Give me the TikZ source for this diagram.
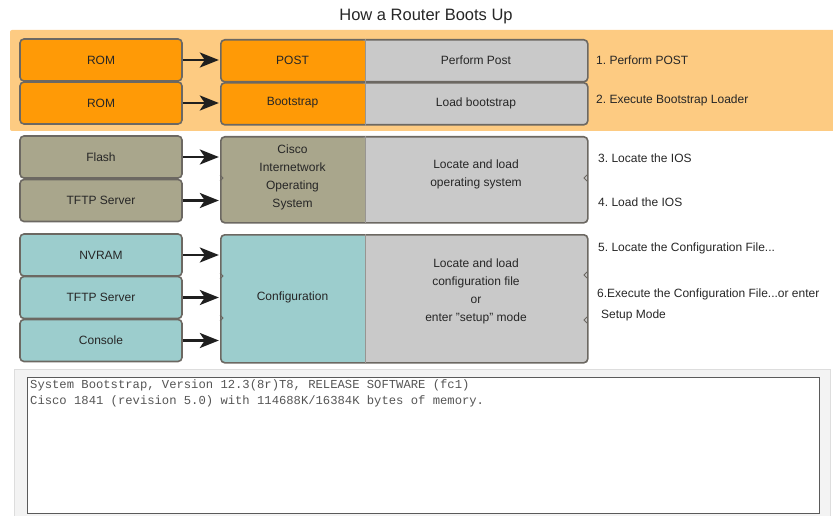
\documentclass[tikz,border=0pt]{standalone}
\usepackage{fontspec}
\setmainfont{Liberation Sans}
\newfontfamily\termfont{Liberation Mono}
\usetikzlibrary{arrows.meta}
\frenchspacing
\definecolor{bandorange}{HTML}{FDCB82}
\definecolor{orangefill}{HTML}{FF9A06}
\definecolor{grayfill}{HTML}{C9C9C9}
\definecolor{olivefill}{HTML}{A9A68C}
\definecolor{tealfill}{HTML}{9CCDCD}
\definecolor{bordercol}{HTML}{6C6862}
\definecolor{labeltext}{HTML}{262626}
\definecolor{termtext}{HTML}{555555}
\definecolor{panelfill}{HTML}{F3F3F3}
\definecolor{panelline}{HTML}{DDDDDD}
\definecolor{termline}{HTML}{5A5A5A}
\tikzset{
  box/.style={draw=bordercol, line width=1.6pt, rounded corners=4pt, inner sep=0pt},
  lbl/.style={font=\fontsize{12}{18}\selectfont, text=labeltext, align=center},
  steplbl/.style={font=\fontsize{12}{21}\selectfont, text=labeltext, anchor=west, align=left, inner sep=0pt},
  srcbox/.style={box, lbl, minimum width=162pt, minimum height=42pt},
  midbox/.style={box, fill=grayfill, anchor=north west, minimum width=367pt,
     path picture={\fill[#1] (path picture bounding box.north west) rectangle ([xshift=145pt]path picture bounding box.south west);}},
  divider/.style={draw=bordercol!70, line width=0.6pt},
  notch/.style={draw=bordercol, line width=1pt},
  arr/.style={line width=2.6pt, draw=black!88, -{Stealth[length=19pt,width=15pt,inset=5pt]}, shorten >=1.2pt},
  termstyle/.style={font=\termfont\fontsize{12.2}{15}\selectfont, text=termtext, anchor=base west, inner sep=0pt},
}
\begin{document}
\begin{tikzpicture}[x=1pt,y=-1pt]
\useasboundingbox (0,0) rectangle (833,516);
% title
\node[font=\fontsize{16.5}{20}\selectfont, text=labeltext] (title) at (426,17) {How a Router Boots Up};
% orange band
\fill[bandorange, rounded corners=2pt] (10,30) rectangle (840,131);
% ---------- section 1/2 ----------
\node[srcbox, fill=orangefill] (rom1) at (101,60) {ROM};
\node[srcbox, fill=orangefill] (rom2) at (101,103) {ROM};
\node[midbox=orangefill, minimum height=42pt] (post) at (220,39) {};
\node[midbox=orangefill, minimum height=42pt] (boot) at (220,82) {};
\draw[divider] ([xshift=145pt]post.north west) -- ([xshift=145pt]post.south west);
\draw[divider] ([xshift=145pt]boot.north west) -- ([xshift=145pt]boot.south west);
\node[lbl] (postl) at (292.5,60) {POST};
\node[lbl] (bootl) at (292.5,103) {Bootstrap};
\node[lbl] (postd) at (476,60) {Perform Post};
\node[lbl] (bootd) at (476,103) {Load bootstrap};
\draw[arr] (rom1) -- (rom1 -| post.west);
\draw[arr] (rom2) -- (rom2 -| boot.west);
% ---------- section 3/4 ----------
\node[srcbox, fill=olivefill] (flash) at (101,157) {Flash};
\node[srcbox, fill=olivefill] (tftp1) at (101,200.5) {TFTP Server};
\node[midbox=olivefill, minimum height=86pt] (cios) at (220,136) {};
\draw[divider] ([xshift=145pt]cios.north west) -- ([xshift=145pt]cios.south west);
\draw[notch] (220,175) -- (223,178) -- (220,181);
\draw[notch] (587,175) -- (584,178) -- (587,181);
\node[lbl] (ciosl) at (292.5,177) {Cisco\\Internetwork\\Operating\\System};
\node[lbl] (ciosd) at (476,174) {Locate and load\\operating system};
\draw[arr] (flash) -- (flash -| cios.west);
\draw[arr] (tftp1) -- (tftp1 -| cios.west);
% ---------- section 5/6 ----------
\node[srcbox, fill=tealfill] (nvram) at (101,255) {NVRAM};
\node[srcbox, fill=tealfill] (tftp2) at (101,297.5) {TFTP Server};
\node[srcbox, fill=tealfill] (console) at (101,340.5) {Console};
\node[midbox=tealfill, minimum height=128pt] (conf) at (220,234) {};
\draw[divider] ([xshift=145pt]conf.north west) -- ([xshift=145pt]conf.south west);
\draw[notch] (220,273) -- (223,276) -- (220,279);
\draw[notch] (220,315) -- (223,318) -- (220,321);
\draw[notch] (587,272) -- (584,275) -- (587,278);
\draw[notch] (587,317) -- (584,320) -- (587,323);
\node[lbl] (confl) at (292.5,297) {Configuration};
\node[lbl] (confd) at (476,291) {Locate and load\\configuration file\\or\\enter "setup" mode};
\draw[arr] (nvram) -- (nvram -| conf.west);
\draw[arr] (tftp2) -- (tftp2 -| conf.west);
\draw[arr] (console) -- (console -| conf.west);
% ---------- step labels ----------
\node[steplbl] (s1) at (596,60) {1. Perform POST};
\node[steplbl] (s2) at (596,100) {2. Execute Bootstrap Loader};
\node[steplbl] (s3) at (598,158) {3. Locate the IOS};
\node[steplbl] (s4) at (598,202) {4. Load the IOS};
\node[steplbl] (s5) at (598,248) {5. Locate the Configuration File...};
\node[steplbl] (s6) at (597,305) {6.Execute the Configuration File...or enter\\\hspace*{4pt}Setup Mode};
% ---------- terminal ----------
\filldraw[fill=panelfill, draw=panelline, line width=0.8pt] (14,369) rectangle (830,520);
\node[draw=termline, line width=1.3pt, fill=white, anchor=north west, minimum width=792pt, minimum height=136pt, inner sep=0pt] (term) at (27,377) {};
\node[termstyle] (termline1) at (30,388) {System Bootstrap, Version 12.3(8r)T8, RELEASE SOFTWARE (fc1)};
\node[termstyle] (termline2) at (30,404) {Cisco 1841 (revision 5.0) with 114688K/16384K bytes of memory.};
\end{tikzpicture}
\end{document}
